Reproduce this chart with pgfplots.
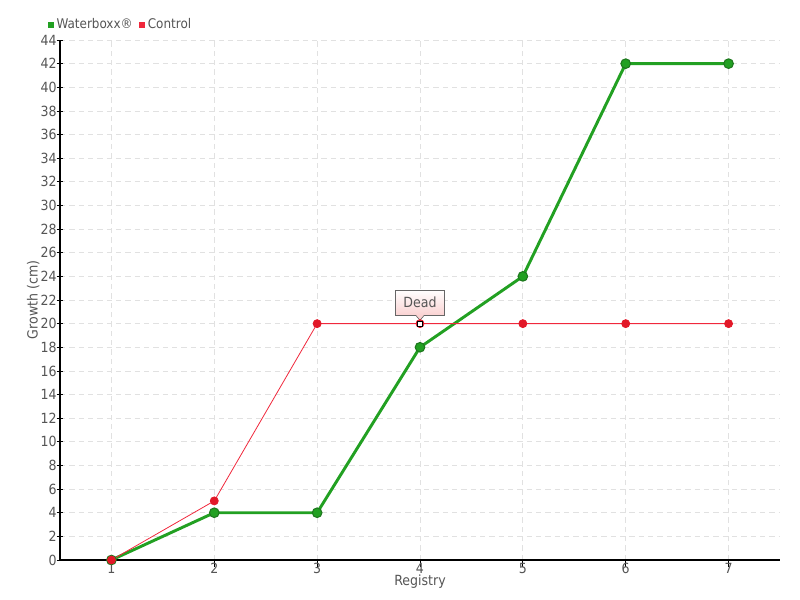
\documentclass[border=0pt]{standalone}
\usepackage{fontspec}
\setmainfont{DejaVu Sans Condensed}
\usepackage{pgfplots}
\pgfplotsset{compat=1.18}
\usetikzlibrary{shadings}
\definecolor{wgreen}{RGB}{34,160,34}
\definecolor{wgreendark}{RGB}{30,120,30}
\definecolor{cred}{RGB}{240,40,60}
\definecolor{cmark}{RGB}{226,24,40}
\definecolor{txt}{RGB}{85,85,85}
\definecolor{gridc}{RGB}{225,225,225}
\definecolor{tippink}{RGB}{250,210,210}
\begin{document}
\begin{tikzpicture}
\path[use as bounding box] (-45pt,-30pt) rectangle (555pt,420pt);
\begin{axis}[
  scale only axis,
  width=540pt, height=390pt,
  anchor=south west, at={(0pt,0pt)},
  xmin=0.5, xmax=7.5, ymin=0, ymax=44,
  xtick={1,...,7}, ytick={0,2,...,44},
  axis lines*=left,
  axis line style={black, line width=0.8pt},
  tick style={black, line width=0.6pt},
  xtick align=outside, ytick align=center,
  major tick length=5pt,
  grid=major,
  grid style={gridc, dashed, dash pattern=on 4pt off 3pt, line width=0.6pt},
  font=\fontsize{10.5}{12}\selectfont\color{txt},
  tick label style={font=\fontsize{10.5}{12}\selectfont, text=txt},
  /pgf/number format/assume math mode=true,
  xlabel={Registry}, ylabel={Growth (cm)},
  xlabel style={font=\fontsize{10.5}{12}\selectfont, text=txt, yshift=6pt},
  ylabel style={font=\fontsize{10.5}{12}\selectfont, text=txt, yshift=-6pt},
  xticklabel style={yshift=6pt},
  yticklabel style={xshift=3.5pt},
  legend columns=2,
  legend style={at={(-0.017,1.012)}, anchor=south west, draw=none, fill=none,
    font=\fontsize{10}{12}\selectfont, text=txt,
    /tikz/every even column/.append style={column sep=3pt},
    inner sep=0pt},
  legend image code/.code={\fill[#1, draw=none] (0pt,-2.2pt) rectangle (4.4pt,2.2pt);},
  clip=false,
]
\addplot[wgreen, line width=2.2pt, mark=*, mark size=3.6pt,
  mark options={fill=wgreen, draw=wgreendark, line width=0.8pt}]
  coordinates {(1,0) (2,4) (3,4) (4,18) (5,24) (6,42) (7,42)};
\addlegendentry{Waterboxx®}
\addplot[cred, line width=0.6pt, mark=*, mark size=3pt,
  mark options={fill=cmark, draw=cmark}]
  coordinates {(1,0) (2,5) (3,20) (4,20) (5,20) (6,20) (7,20)};
\addlegendentry{Control}
\addplot[draw=black, mark=square*, mark size=1.8pt, mark options={fill=white, draw=black, line width=0.8pt}, forget plot]
  coordinates {(4,20)};
\node[draw=gray!80!black, line width=0.5pt, top color=white, bottom color=tippink,
  inner xsep=6pt, inner ysep=4pt, minimum height=19pt, anchor=south,
  font=\fontsize{10.5}{12}\selectfont, text=txt]
  (tip) at ([yshift=6pt]axis cs:4,20) {Dead};
\fill[tippink] ([xshift=-3pt,yshift=0.3pt]tip.south) -- ([xshift=3pt,yshift=0.3pt]tip.south) -- ([yshift=-3.5pt]tip.south) -- cycle;
\draw[gray!80!black, line width=0.5pt] ([xshift=-3pt]tip.south) -- ([yshift=-3.5pt]tip.south) -- ([xshift=3pt]tip.south);
\end{axis}
\end{tikzpicture}
\end{document}
